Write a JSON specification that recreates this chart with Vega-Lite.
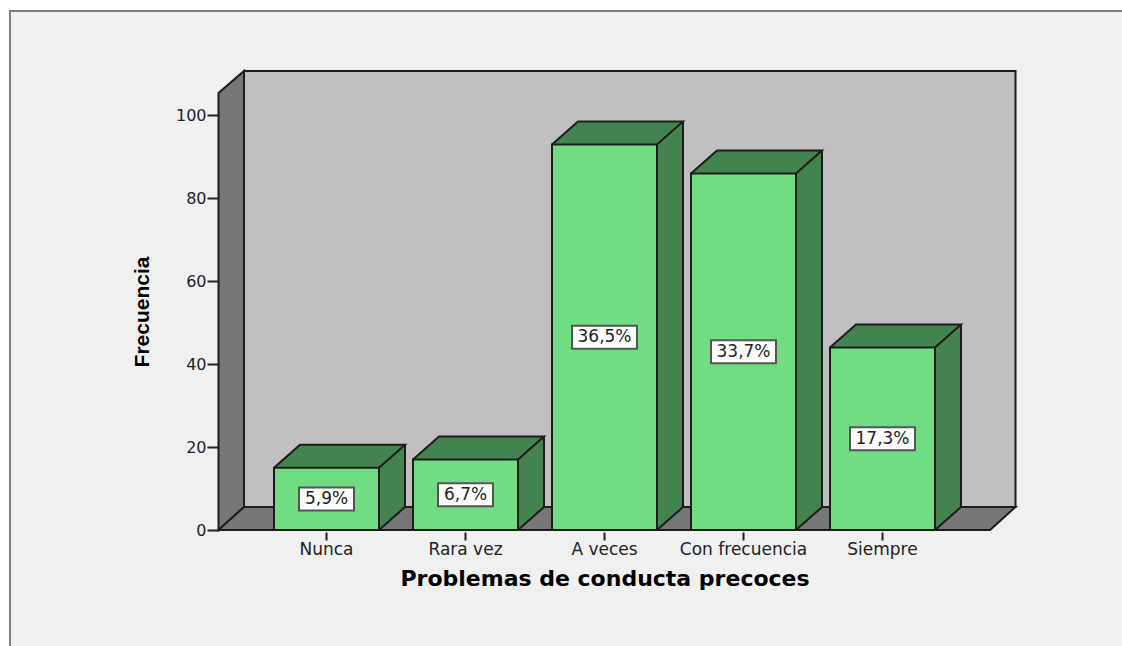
{
"$schema":"https://vega.github.io/schema/vega-lite/v6.json",
"width":771,"height":437,"autosize":"none",
"padding":{"left":219,"top":93,"right":132,"bottom":116},
"background":"#ffffff",
"config":{"view":{"stroke":null}},
"data":{"values":[
{"categoria":"Nunca","frecuencia":15,"etiqueta":"5,9%"},
{"categoria":"Rara vez","frecuencia":17,"etiqueta":"6,7%"},
{"categoria":"A veces","frecuencia":93,"etiqueta":"36,5%"},
{"categoria":"Con frecuencia","frecuencia":86,"etiqueta":"33,7%"},
{"categoria":"Siempre","frecuencia":44,"etiqueta":"17,3%"}
]},
"encoding":{
"x":{"field":"categoria","type":"nominal","sort":null,
"scale":{"type":"band","domain":["Nunca","Rara vez","A veces","Con frecuencia","Siempre"],"paddingInner":0.2446,"paddingOuter":0.3957,"round":false},
"axis":{"zindex":1,"title":"Problemas de conducta precoces","titleFont":"DejaVu Sans","titleFontSize":22,"titleFontWeight":"bold","titleColor":"#000000","titlePadding":11,"labelFont":"DejaVu Sans","labelFontSize":17,"labelColor":"#222222","labelAngle":0,"labelPadding":1,"offset":2,"domain":false,"ticks":true,"tickSize":8,"tickWidth":2,"tickColor":"#222222","grid":false,"labelOverlap":false}}
},
"resolve":{"scale":{"y":"independent"}},
"layer":[
{"encoding":{"y":{"field":"frecuencia","type":"quantitative","scale":{"domain":[0,105.4],"nice":false,"zero":true},
"axis":{"zindex":1,"title":"Frecuencia","titleFont":"Liberation Sans","titleFontSize":21,"titleFontWeight":"bold","titleColor":"#000000","titlePadding":23,"values":[0,20,40,60,80,100],"labelFont":"DejaVu Sans","labelFontSize":16,"labelColor":"#222222","labelPadding":1,"domain":false,"tickSize":12,"tickWidth":2,"tickColor":"#222222","grid":false}}},
"layer":[
{"transform":[{"filter":{"field":"categoria","equal":"Nunca"}}],
"mark":{"type":"point","shape":"M-316.5,-519 L795.5,-519 L795.5,116 L-316.5,116 Z","size":4,"filled":true,"fill":"#f0f0f0","stroke":null,"opacity":1},
"encoding":{"y":{"datum":0}}},
{"transform":[{"filter":{"field":"categoria","equal":"Nunca"}}],
"mark":{"type":"point","shape":"M795.5,-519 L-316.5,-519 L-316.5,116","size":4,"filled":false,"fill":"transparent","stroke":"#808080","strokeWidth":2,"opacity":1},
"encoding":{"y":{"datum":0}}},
{"transform":[{"filter":{"field":"categoria","equal":"Nunca"}}],
"mark":{"type":"point","shape":"M-82.5,-23 L689,-23 L689,-459 L-82.5,-459 Z","size":4,"filled":true,"fill":"#c0c0c0","stroke":"#1c1c1c","strokeWidth":2,"opacity":1},
"encoding":{"y":{"datum":0}}},
{"transform":[{"filter":{"field":"categoria","equal":"Nunca"}}],
"mark":{"type":"point","shape":"M-108,0 L-82.5,-23 L-82.5,-459 L-108,-437 Z","size":4,"filled":true,"fill":"#777777","stroke":"#1c1c1c","strokeWidth":2,"opacity":1},
"encoding":{"y":{"datum":0}}},
{"transform":[{"filter":{"field":"categoria","equal":"Nunca"}}],
"mark":{"type":"point","shape":"M-108,0 L663.5,0 L689,-23 L-82.5,-23 Z","size":4,"filled":true,"fill":"#777777","stroke":"#1c1c1c","strokeWidth":2,"opacity":1},
"encoding":{"y":{"datum":0}}},
{"mark":{"type":"bar","width":26,"xOffset":65.5,"y2Offset":-23,"fill":"#438350","stroke":null},
"encoding":{"y2":{"datum":0}}},
{"mark":{"type":"point","shape":"M52,0.5 L79,0.5 L79,-23 Z M-52.5,0 L-26.5,-23 L78.5,-23 L52.5,0 Z","size":4,"filled":true,"fill":"#438350","stroke":null,"opacity":1}},
{"mark":{"type":"point","shape":"M52,0 L79,-24 L52,-24 Z","size":4,"filled":true,"fill":"#438350","stroke":null,"opacity":1},
"encoding":{"y":{"datum":0}}},
{"mark":{"type":"rule","xOffset":78.5,"yOffset":-23,"y2Offset":-23,"stroke":"#1c1c1c","strokeWidth":2},
"encoding":{"y2":{"datum":0}}},
{"mark":{"type":"point","shape":"M-52.5,0 L-26.5,-23 L78.5,-23 L52.5,0","size":4,"filled":false,"fill":"transparent","stroke":"#1c1c1c","strokeWidth":2,"opacity":1}},
{"mark":{"type":"point","shape":"M52.5,0 L78.5,-23","size":4,"filled":false,"fill":"transparent","stroke":"#1c1c1c","strokeWidth":2,"opacity":1},
"encoding":{"y":{"datum":0}}},
{"mark":{"type":"bar","fill":"#70dd84","stroke":"#1c1c1c","strokeWidth":2}}
]},
{"encoding":{"y":{"field":"frecuencia","type":"quantitative","scale":{"domain":[0,210.8],"nice":false,"zero":true},"axis":null}},
"layer":[
{"mark":{"type":"point","size":4,"filled":true,"fill":"#ffffff","stroke":"#555555","strokeWidth":2,"opacity":1},
"encoding":{"shape":{"field":"etiqueta","type":"nominal","legend":null,
"scale":{"domain":["5,9%","6,7%","36,5%","33,7%","17,3%"],
"range":["M-27.5,-11.5 L27.5,-11.5 L27.5,11.5 L-27.5,11.5 Z","M-27.5,-11.5 L27.5,-11.5 L27.5,11.5 L-27.5,11.5 Z","M-32.5,-11.5 L32.5,-11.5 L32.5,11.5 L-32.5,11.5 Z","M-32.5,-11.5 L32.5,-11.5 L32.5,11.5 L-32.5,11.5 Z","M-32.5,-11.5 L32.5,-11.5 L32.5,11.5 L-32.5,11.5 Z"]}}}},
{"mark":{"type":"text","font":"DejaVu Sans","fontSize":17,"fill":"#222222","align":"center","baseline":"middle"},
"encoding":{"text":{"field":"etiqueta","type":"nominal"}}}
]}
]
}
